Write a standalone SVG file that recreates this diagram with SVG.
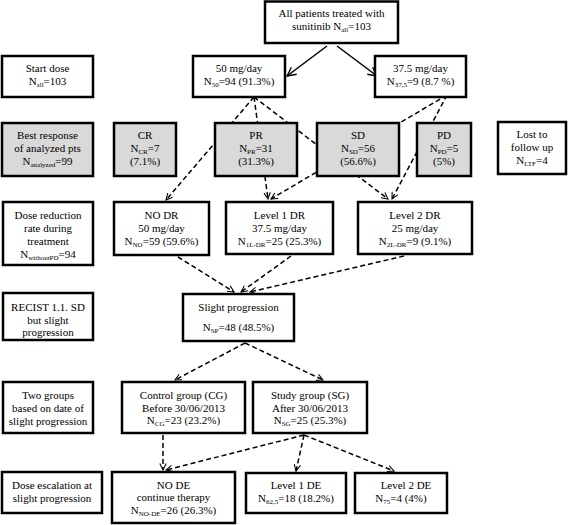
<svg xmlns="http://www.w3.org/2000/svg" width="569" height="525" viewBox="0 0 569 525">
<style>
.b{fill:#fff;stroke:#000;stroke-width:2.5}
.g{fill:#d9d9d9;stroke:#000;stroke-width:2.5}
.t{font-family:"Liberation Serif","Times New Roman",serif;font-size:11px;text-anchor:middle;fill:#000}
.s{font-size:7px}
.d{fill:none;stroke:#000;stroke-width:1.5;stroke-dasharray:5 3}
.l{fill:none;stroke:#000;stroke-width:1.5}
</style>
<defs>
<marker id="ah" viewBox="0 0 10 10" refX="9" refY="5" markerWidth="8" markerHeight="8" markerUnits="userSpaceOnUse" orient="auto">
<path d="M1,1 L9,5 L1,9" fill="none" stroke="#000" stroke-width="1.3"/>
</marker>
<marker id="ahs" viewBox="0 0 10 10" refX="9" refY="5" markerWidth="11" markerHeight="11" markerUnits="userSpaceOnUse" orient="auto">
<path d="M1,1 L9,5 L1,9" fill="none" stroke="#000" stroke-width="1.2"/>
</marker>
</defs>
<rect width="569" height="525" fill="#fff"/>

<g id="connectors">
<path class="l" d="M327,46 L287,76" marker-end="url(#ahs)"/>
<path class="l" d="M337,46 L377,76" marker-end="url(#ahs)"/>
<path class="d" d="M254,97 L166,200" marker-end="url(#ah)"/>
<path class="d" d="M254,97 L268,199" marker-end="url(#ah)"/>
<path class="d" d="M254,97 L388,199" marker-end="url(#ah)"/>
<path class="d" d="M447,95 L271,199" marker-end="url(#ah)"/>
<path class="d" d="M447,95 L392,199" marker-end="url(#ah)"/>
<path class="d" d="M178,257 L234,292" marker-end="url(#ah)"/>
<path class="d" d="M291,256 L241,292" marker-end="url(#ah)"/>
<path class="d" d="M404,256 L250,292" marker-end="url(#ah)"/>
<path class="d" d="M245,343 L175,380" marker-end="url(#ah)"/>
<path class="d" d="M245,343 L323,380" marker-end="url(#ah)"/>
<path class="d" d="M163,435 L163,470" marker-end="url(#ah)"/>
<path class="d" d="M304,435 L166,470" marker-end="url(#ah)"/>
<path class="d" d="M304,435 L296,471" marker-end="url(#ah)"/>
<path class="d" d="M304,435 L394,471" marker-end="url(#ah)"/>
</g>

<g id="all">
<rect class="b" x="265" y="1.5" width="133" height="41.5"/>
<text class="t" x="331.5" y="17">All patients treated with</text>
<text class="t" x="331.5" y="30">sunitinib N<tspan class="s" dy="2">all</tspan><tspan dy="-2">=103</tspan></text>
</g>

<g id="startdose">
<rect class="b" x="2" y="56" width="91" height="41"/>
<text class="t" x="47.5" y="72">Start dose</text>
<text class="t" x="47.5" y="85">N<tspan class="s" dy="2">all</tspan><tspan dy="-2">=103</tspan></text>
</g>

<g id="dose50">
<rect class="b" x="193" y="56" width="92" height="41"/>
<text class="t" x="239" y="72">50 mg/day</text>
<text class="t" x="239" y="85">N<tspan class="s" dy="2">50</tspan><tspan dy="-2">=94 (91.3%)</tspan></text>
</g>

<g id="dose375">
<rect class="b" x="375" y="56" width="91" height="41"/>
<text class="t" x="420.5" y="72">37.5 mg/day</text>
<text class="t" x="420.5" y="85">N<tspan class="s" dy="2">37,5</tspan><tspan dy="-2">=9 (8.7 %)</tspan></text>
</g>

<g id="best">
<rect class="g" x="2" y="123" width="91" height="53"/>
<text class="t" x="47.5" y="139">Best response</text>
<text class="t" x="47.5" y="152">of analyzed pts</text>
<text class="t" x="47.5" y="165">N<tspan class="s" dy="2">analyzed</tspan><tspan dy="-2">=99</tspan></text>
</g>

<g id="cr">
<rect class="g" x="114" y="123" width="62" height="53"/>
<text class="t" x="145" y="139">CR</text>
<text class="t" x="145" y="152">N<tspan class="s" dy="2">CR</tspan><tspan dy="-2">=7</tspan></text>
<text class="t" x="145" y="165">(7.1%)</text>
</g>

<g id="pr">
<rect class="g" x="215" y="123" width="82" height="53"/>
<text class="t" x="256" y="139">PR</text>
<text class="t" x="256" y="152">N<tspan class="s" dy="2">PR</tspan><tspan dy="-2">=31</tspan></text>
<text class="t" x="256" y="165">(31.3%)</text>
</g>

<g id="sd">
<rect class="g" x="317" y="123" width="82" height="53"/>
<text class="t" x="358" y="139">SD</text>
<text class="t" x="358" y="152">N<tspan class="s" dy="2">SD</tspan><tspan dy="-2">=56</tspan></text>
<text class="t" x="358" y="165">(56.6%)</text>
</g>

<g id="pd">
<rect class="g" x="417" y="123" width="54" height="53"/>
<text class="t" x="444" y="139">PD</text>
<text class="t" x="444" y="152">N<tspan class="s" dy="2">PD</tspan><tspan dy="-2">=5</tspan></text>
<text class="t" x="444" y="165">(5%)</text>
</g>

<g id="ltf">
<rect class="b" x="498" y="122" width="68" height="52"/>
<text class="t" x="532" y="138">Lost to</text>
<text class="t" x="532" y="151">follow up</text>
<text class="t" x="532" y="164">N<tspan class="s" dy="2">LTF</tspan><tspan dy="-2">=4</tspan></text>
</g>

<g id="dosered">
<rect class="b" x="3" y="202" width="90" height="63"/>
<text class="t" x="48" y="219">Dose reduction</text>
<text class="t" x="48" y="232">rate during</text>
<text class="t" x="48" y="245">treatment</text>
<text class="t" x="48" y="258">N<tspan class="s" dy="2">withoutPD</tspan><tspan dy="-2">=94</tspan></text>
</g>

<g id="nodr">
<rect class="b" x="114" y="202" width="95" height="53"/>
<text class="t" x="161.5" y="219">NO DR</text>
<text class="t" x="161.5" y="232">50 mg/day</text>
<text class="t" x="161.5" y="245">N<tspan class="s" dy="2">NO</tspan><tspan dy="-2">=59 (59.6%)</tspan></text>
</g>

<g id="l1dr">
<rect class="b" x="226" y="202" width="107" height="52"/>
<text class="t" x="279.5" y="219">Level 1 DR</text>
<text class="t" x="279.5" y="232">37.5 mg/day</text>
<text class="t" x="279.5" y="245">N<tspan class="s" dy="2">1L-DR</tspan><tspan dy="-2">=25 (25.3%)</tspan></text>
</g>

<g id="l2dr">
<rect class="b" x="358" y="202" width="114" height="52"/>
<text class="t" x="415" y="219">Level 2 DR</text>
<text class="t" x="415" y="232">25 mg/day</text>
<text class="t" x="415" y="245">N<tspan class="s" dy="2">2L-DR</tspan><tspan dy="-2">=9 (9.1%)</tspan></text>
</g>

<g id="recist">
<rect class="b" x="3" y="293" width="90" height="47"/>
<text class="t" x="48" y="311">RECIST 1.1. SD</text>
<text class="t" x="48" y="323.5">but slight</text>
<text class="t" x="48" y="336">progression</text>
</g>

<g id="sp">
<rect class="b" x="183" y="294" width="111" height="47"/>
<text class="t" x="238.5" y="311">Slight progression</text>
<text class="t" x="238.5" y="331">N<tspan class="s" dy="2">SP</tspan><tspan dy="-2">=48 (48.5%)</tspan></text>
</g>

<g id="twogroups">
<rect class="b" x="3" y="382" width="90" height="51"/>
<text class="t" x="48" y="399">Two groups</text>
<text class="t" x="48" y="412">based on date of</text>
<text class="t" x="48" y="425">slight progression</text>
</g>

<g id="cg">
<rect class="b" x="122" y="382" width="123" height="51"/>
<text class="t" x="183.5" y="399">Control group (CG)</text>
<text class="t" x="183.5" y="411.5">Before 30/06/2013</text>
<text class="t" x="183.5" y="424">N<tspan class="s" dy="2">CG</tspan><tspan dy="-2">=23 (23.2%)</tspan></text>
</g>

<g id="sg">
<rect class="b" x="253" y="382" width="114" height="51"/>
<text class="t" x="310" y="399">Study group (SG)</text>
<text class="t" x="310" y="411.5">After 30/06/2013</text>
<text class="t" x="310" y="424">N<tspan class="s" dy="2">SG</tspan><tspan dy="-2">=25 (25.3%)</tspan></text>
</g>

<g id="doseesc">
<rect class="b" x="2" y="472" width="100" height="41"/>
<text class="t" x="52" y="489">Dose escalation at</text>
<text class="t" x="52" y="502">slight progression</text>
</g>

<g id="node">
<rect class="b" x="112" y="472" width="123" height="51"/>
<text class="t" x="173.5" y="489">NO DE</text>
<text class="t" x="173.5" y="501">continue therapy</text>
<text class="t" x="173.5" y="514">N<tspan class="s" dy="2">NO-DE</tspan><tspan dy="-2">=26 (26.3%)</tspan></text>
</g>

<g id="l1de">
<rect class="b" x="246" y="473" width="100" height="40"/>
<text class="t" x="296" y="489">Level 1 DE</text>
<text class="t" x="296" y="502">N<tspan class="s" dy="2">62,5</tspan><tspan dy="-2">=18 (18.2%)</tspan></text>
</g>

<g id="l2de">
<rect class="b" x="355" y="473" width="92" height="40"/>
<text class="t" x="406" y="489">Level 2 DE</text>
<text class="t" x="401" y="502">N<tspan class="s" dy="2">75</tspan><tspan dy="-2">=4 (4%)</tspan></text>
</g>
</svg>
